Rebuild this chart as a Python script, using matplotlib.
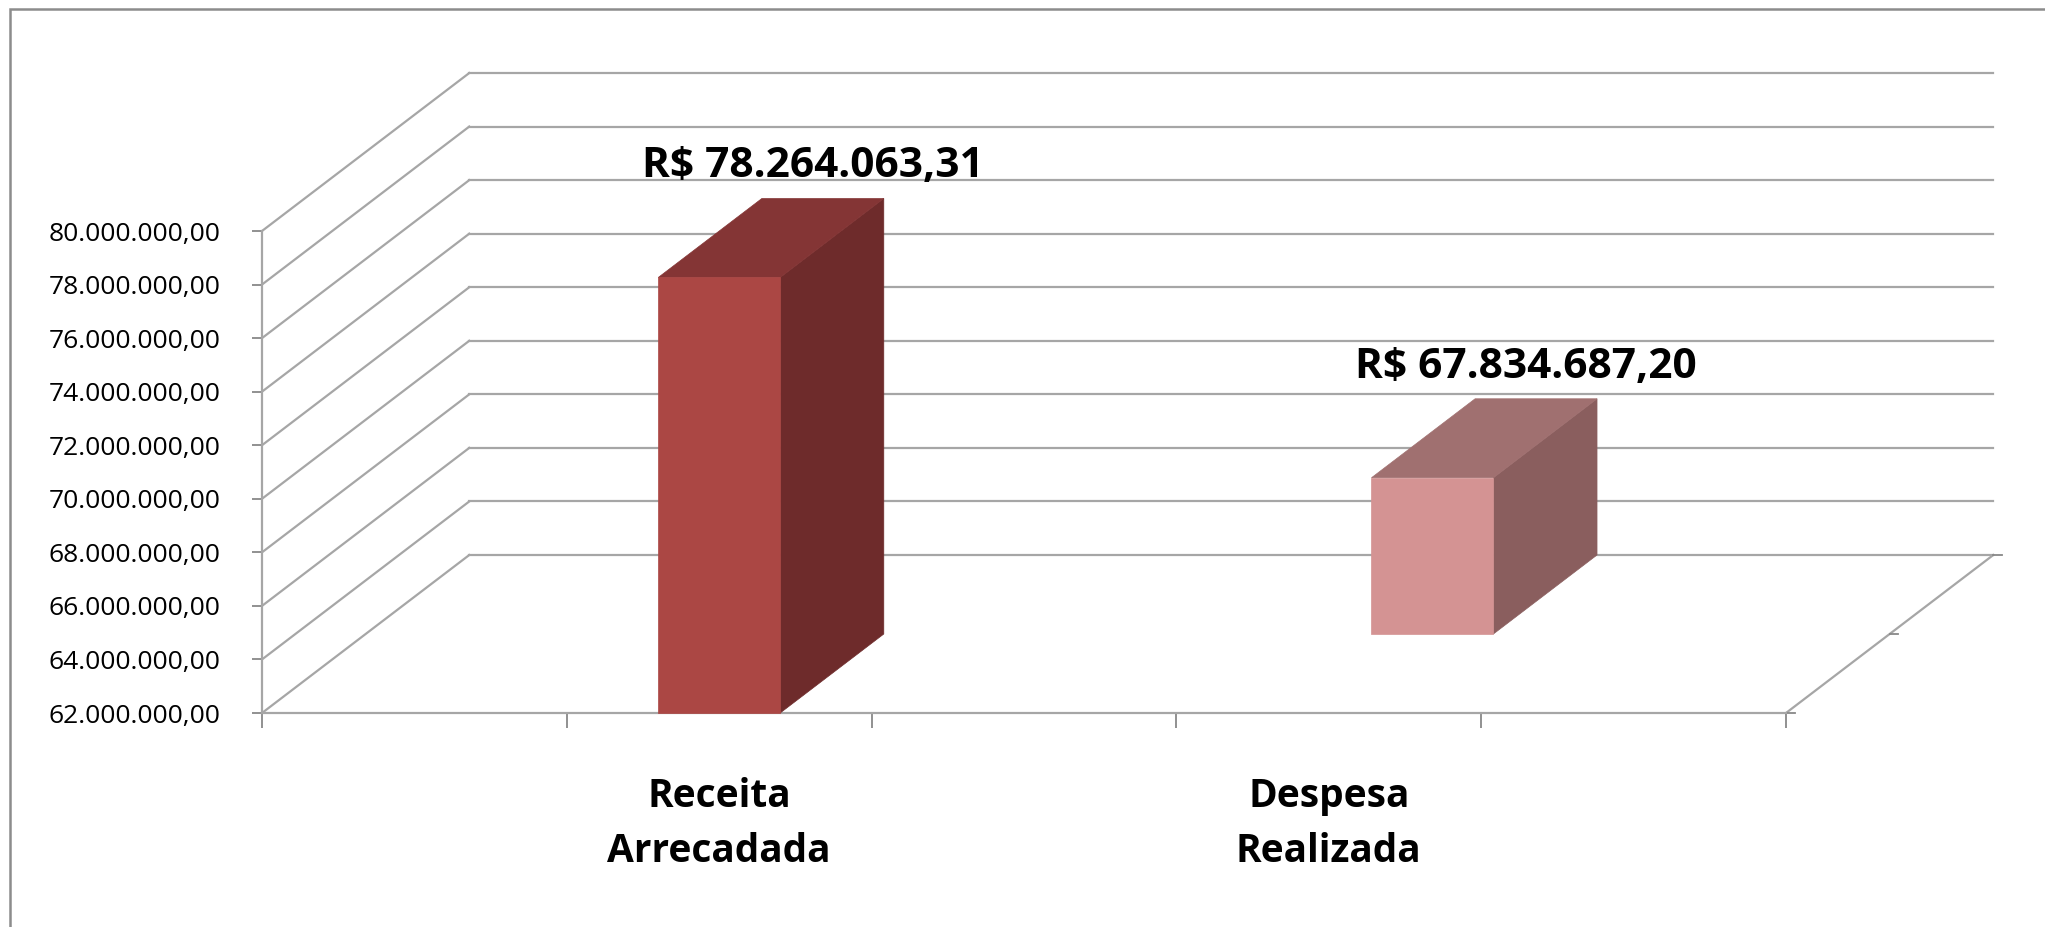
import matplotlib.pyplot as plt
from matplotlib.patches import Polygon, Rectangle
from matplotlib.ticker import FuncFormatter, MultipleLocator

plt.rcParams['font.family'] = ['Open Sans', 'DejaVu Sans']

# data
categories = ["Receita\nArrecadada", "Despesa\nRealizada"]
values = [78264063.31, 67834687.20]
value_labels = ["R$ 78.264.063,31", "R$ 67.834.687,20"]
slot_pos = [1.5, 3.5]      # where each category sits on the 5-slot axis
n_slots = 5
y_min, y_max, y_step = 62e6, 80e6, 2e6

face_colors = ["#ab4744", "#d49393"]
top_colors = ["#843535", "#a07070"]
side_colors = ["#6e2b2b", "#8a5e5e"]
grid_color = "#a6a6a6"

# oblique offset for the full depth of the box (data units)
DX = 0.68
DY = 5.9e6
bar_half = 0.2
row_depth = 1.0 / len(values)


def proj(x, y, d):
    return (x + d * DX, y + d * DY)


def br_fmt(v, pos):
    s = f"{v:,.2f}"
    return s.replace(",", "X").replace(".", ",").replace("X", ".")


fig = plt.figure(figsize=(20.45, 9.27), dpi=100)
ax = fig.add_axes([262 / 2045, 214 / 927, 1524 / 2045, 482 / 927])
ax.set_xlim(0, n_slots)
ax.set_ylim(y_min, y_max)

# axes look
for s in ["top", "right"]:
    ax.spines[s].set_visible(False)
for s in ["left", "bottom"]:
    ax.spines[s].set_color(grid_color)
    ax.spines[s].set_linewidth(1.6)
ax.yaxis.set_major_locator(MultipleLocator(y_step))
ax.yaxis.set_major_formatter(FuncFormatter(br_fmt))
ax.set_xticks(range(n_slots + 1))
ax.set_xticklabels([])
ax.tick_params(axis="y", length=7, width=1.3, color="#888888", pad=23,
               labelsize=19, labelcolor="black")
ax.tick_params(axis="x", length=11, width=1.3, color="#888888")
ax.patch.set_alpha(0)

# walls: back gridlines + left wall diagonals
yv = y_min
while yv <= y_max + 1:
    x0, y0 = proj(0, yv, 1)
    x1, y1 = proj(n_slots, yv, 1)
    ax.plot([x0, x1], [y0, y1], color=grid_color, lw=1.6, clip_on=False, zorder=1)
    xa, ya = proj(0, yv, 0)
    ax.plot([xa, x0], [ya, y0], color=grid_color, lw=1.6, clip_on=False, zorder=1)
    yv += y_step

# floor right edge + depth ticks
fx0, fy0 = proj(n_slots, y_min, 0)
fx1, fy1 = proj(n_slots, y_min, 1)
ax.plot([fx0, fx1], [fy0, fy1], color=grid_color, lw=1.6, clip_on=False, zorder=1)
for d in [0, 0.5, 1]:
    tx, ty = proj(n_slots, y_min, d)
    ax.plot([tx, tx + 0.028], [ty, ty], color="#888888", lw=1.3, clip_on=False, zorder=1)

# 3d bars
for i, (pos, v) in enumerate(zip(slot_pos, values)):
    d0, d1 = i * row_depth, (i + 1) * row_depth
    xl, xr = pos - bar_half, pos + bar_half
    front = [proj(xl, y_min, d0), proj(xr, y_min, d0), proj(xr, v, d0), proj(xl, v, d0)]
    top = [proj(xl, v, d0), proj(xr, v, d0), proj(xr, v, d1), proj(xl, v, d1)]
    side = [proj(xr, y_min, d0), proj(xr, y_min, d1), proj(xr, v, d1), proj(xr, v, d0)]
    for pts, c in [(side, side_colors[i]), (top, top_colors[i]), (front, face_colors[i])]:
        ax.add_patch(Polygon(pts, closed=True, facecolor=c, edgecolor=c, lw=0.5,
                             clip_on=False, zorder=3))
    lx, ly = proj(pos, v, d1)
    ax.annotate(value_labels[i], xy=(lx, ly), xytext=(-10, 21), textcoords="offset pixels",
                ha="center", va="baseline", fontsize=30.5, fontweight="bold",
                annotation_clip=False, zorder=5)

# category labels
for pos, cat in zip(slot_pos, categories):
    for j, line in enumerate(cat.split("\n")):
        ax.annotate(line, xy=(pos, y_min), xytext=(0, -94 - 55 * j),
                    textcoords="offset pixels", ha="center", va="baseline",
                    fontsize=28, fontweight="bold", annotation_clip=False)

# chart frame (only top/left edges are in view)
fig.patches.append(Rectangle((10 / 2045, -0.1), 1.2, 1.1 - 9 / 927, fill=False,
                             edgecolor="#8c8c8c", lw=1.8, transform=fig.transFigure))

fig.savefig("out.png", dpi=100, facecolor="white")
